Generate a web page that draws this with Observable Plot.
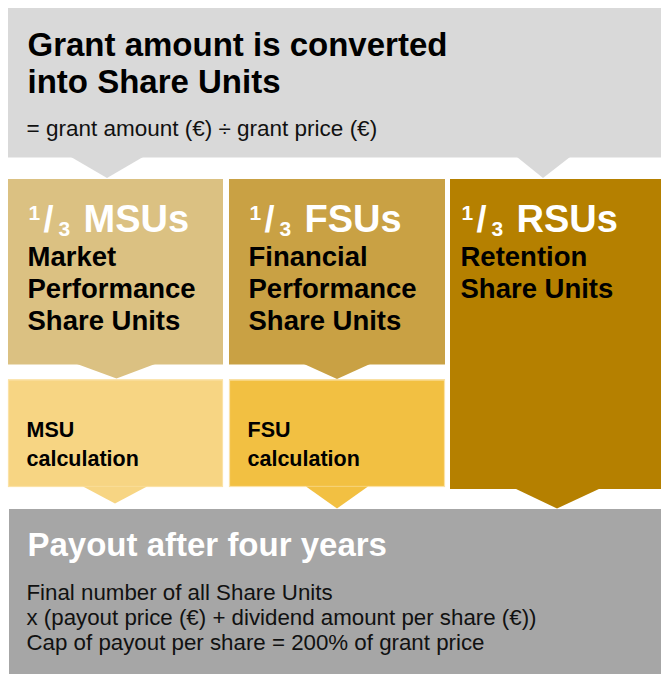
<!DOCTYPE html>
<html><head><meta charset="utf-8">
<script src="https://cdn.jsdelivr.net/npm/d3@7"></script>
<script src="https://cdn.jsdelivr.net/npm/@observablehq/plot@0.6"></script>
<style>
html,body{margin:0;padding:0;background:#fff;}
svg{display:block;}
</style></head><body><div id="chart"></div>
<script>
// ---------- content ----------
const headerTitle = ["Grant amount is converted", "into Share Units"];
const headerFormula = ["= grant amount (€) ÷ grant price (€)"];
const unitShare = ["1", "/", "3"];
const unitCodes = ["MSUs", "FSUs", "RSUs"];
const unitNames = [
  ["Market", "Performance", "Share Units"],
  ["Financial", "Performance", "Share Units"],
  ["Retention", "Share Units"]
];
const calcLabels = [["MSU", "calculation"], ["FSU", "calculation"]];
const payoutTitle = ["Payout after four years"];
const payoutLines = [
  "Final number of all Share Units",
  "x (payout price (€) + dividend amount per share (€))",
  "Cap of payout per share = 200% of grant price"
];
const unitColors = ["#dbc182", "#c9a144", "#b58000"];
const calcColors = ["#f7d583", "#f2c042"];
const greyColors = ["#d9d9d9", "#a6a6a6"];

// ---------- layout ----------
const W = 661, H = 675;
const FONT = "'Liberation Sans', Arial, sans-serif";
const colLeft = [8, 229, 450];
const colRight = [223, 445, 661];
const textLeft = [27, 248, 460];

const boxes = [
  {x1: 8, x2: W, y1: 8, y2: 157.5, fill: greyColors[0]},
  ...unitCodes.map((c, i) => ({x1: colLeft[i], x2: colRight[i], y1: 179, y2: i === 2 ? 489 : 364.5, fill: unitColors[i]})),
  ...calcLabels.map((c, i) => ({x1: colLeft[i], x2: colRight[i], y1: 379.5, y2: 487, fill: calcColors[i], stroke: true})),
  {x1: 9, x2: W, y1: 509, y2: 674, fill: greyColors[1]}
];

// arrows: top edge, left, right, apex x, apex y
const arrowSpecs = [
  {top: 157, x0: 71, x1: 143, ax: 107, ay: 178, fill: greyColors[0]},
  {top: 157, x0: 517, x1: 570, ax: 543, ay: 178, fill: greyColors[0]},
  {top: 364, x0: 77, x1: 155, ax: 116.5, ay: 378.5, fill: unitColors[0]},
  {top: 364, x0: 304, x1: 370, ax: 337, ay: 379, fill: unitColors[1]},
  {top: 486.5, x0: 83, x1: 147, ax: 115, ay: 503.5, fill: calcColors[0]},
  {top: 486.5, x0: 306, x1: 368, ax: 337, ay: 508.5, fill: calcColors[1]},
  {top: 488.5, x0: 515, x1: 600, ax: 557, ay: 508.5, fill: unitColors[2]}
];
const arrowPts = arrowSpecs.flatMap((a, id) => [
  {id, x: a.x0, y1: a.top, y2: a.top, fill: a.fill},
  {id, x: a.ax, y1: a.top, y2: a.ay, fill: a.fill},
  {id, x: a.x1, y1: a.top, y2: a.top, fill: a.fill}
]);

const titleRows = headerTitle.map((t, i) => ({t, x: 27, y: 55 + i * 37}));
const formulaRows = headerFormula.map(t => ({t, x: 26, y: 135}));
const fracRows = unitCodes.flatMap((c, i) => [
  {t: unitShare[0], x: textLeft[i] + 1, y: 219, s: 21},
  {t: unitShare[1], x: textLeft[i] + 16, y: 231, s: 36},
  {t: unitShare[2], x: textLeft[i] + 31, y: 235, s: 21}
]);
const codeRows = unitCodes.map((t, i) => ({t, x: textLeft[i] + 56, y: 231}));
const nameRows = unitNames.flatMap((lines, i) => lines.map((t, j) => ({t, x: textLeft[i], y: 265 + j * 32})));
const calcRows = calcLabels.flatMap((lines, i) => lines.map((t, j) => ({t, x: textLeft[i] - 1, y: 436 + j * 29})));
const payoutTitleRows = payoutTitle.map(t => ({t, x: 27, y: 555}));
const payoutRows = payoutLines.map((t, j) => ({t, x: 26, y: 599 + j * 25}));

const txt = (rows, o) => Plot.text(rows, {x: "x", y: "y", text: "t", textAnchor: "start", lineAnchor: "bottom", fontFamily: FONT, ...o});

const chart = Plot.plot({
  width: W, height: H,
  margin: 0,
  x: {domain: [0, W], range: [0, W], axis: null},
  y: {domain: [0, H], range: [0, H], axis: null},
  color: {type: "identity"},
  marks: [
    Plot.rect(boxes, {x1: "x1", x2: "x2", y1: "y1", y2: "y2", fill: "fill"}),
    Plot.rect(boxes.filter(d => d.stroke), {x1: d => d.x1 + 0.5, x2: d => d.x2 - 0.5, y1: d => d.y1 + 0.5, y2: d => d.y2 - 0.5, fill: "none", stroke: "#fbe2a6", strokeWidth: 1.2}),
    Plot.areaY(arrowPts, {x: "x", y1: "y1", y2: "y2", z: "id", fill: "fill", curve: "linear"}),
    txt(titleRows, {fontSize: 33, fontWeight: "bold", fill: "#000"}),
    txt(formulaRows, {fontSize: 22.5, fill: "#111"}),
    txt(fracRows, {fontSize: "s", fontWeight: "bold", fill: "#fff"}),
    txt(codeRows, {fontSize: 38, fontWeight: "bold", fill: "#fff"}),
    txt(nameRows, {fontSize: 27.5, fontWeight: "bold", fill: "#000"}),
    txt(calcRows, {fontSize: 21.5, fontWeight: "bold", fill: "#000"}),
    txt(payoutTitleRows, {fontSize: 33, fontWeight: "bold", fill: "#fff"}),
    txt(payoutRows, {fontSize: 22.3, fill: "#111"})
  ]
});
document.getElementById("chart").appendChild(chart);
</script>
</body></html>
